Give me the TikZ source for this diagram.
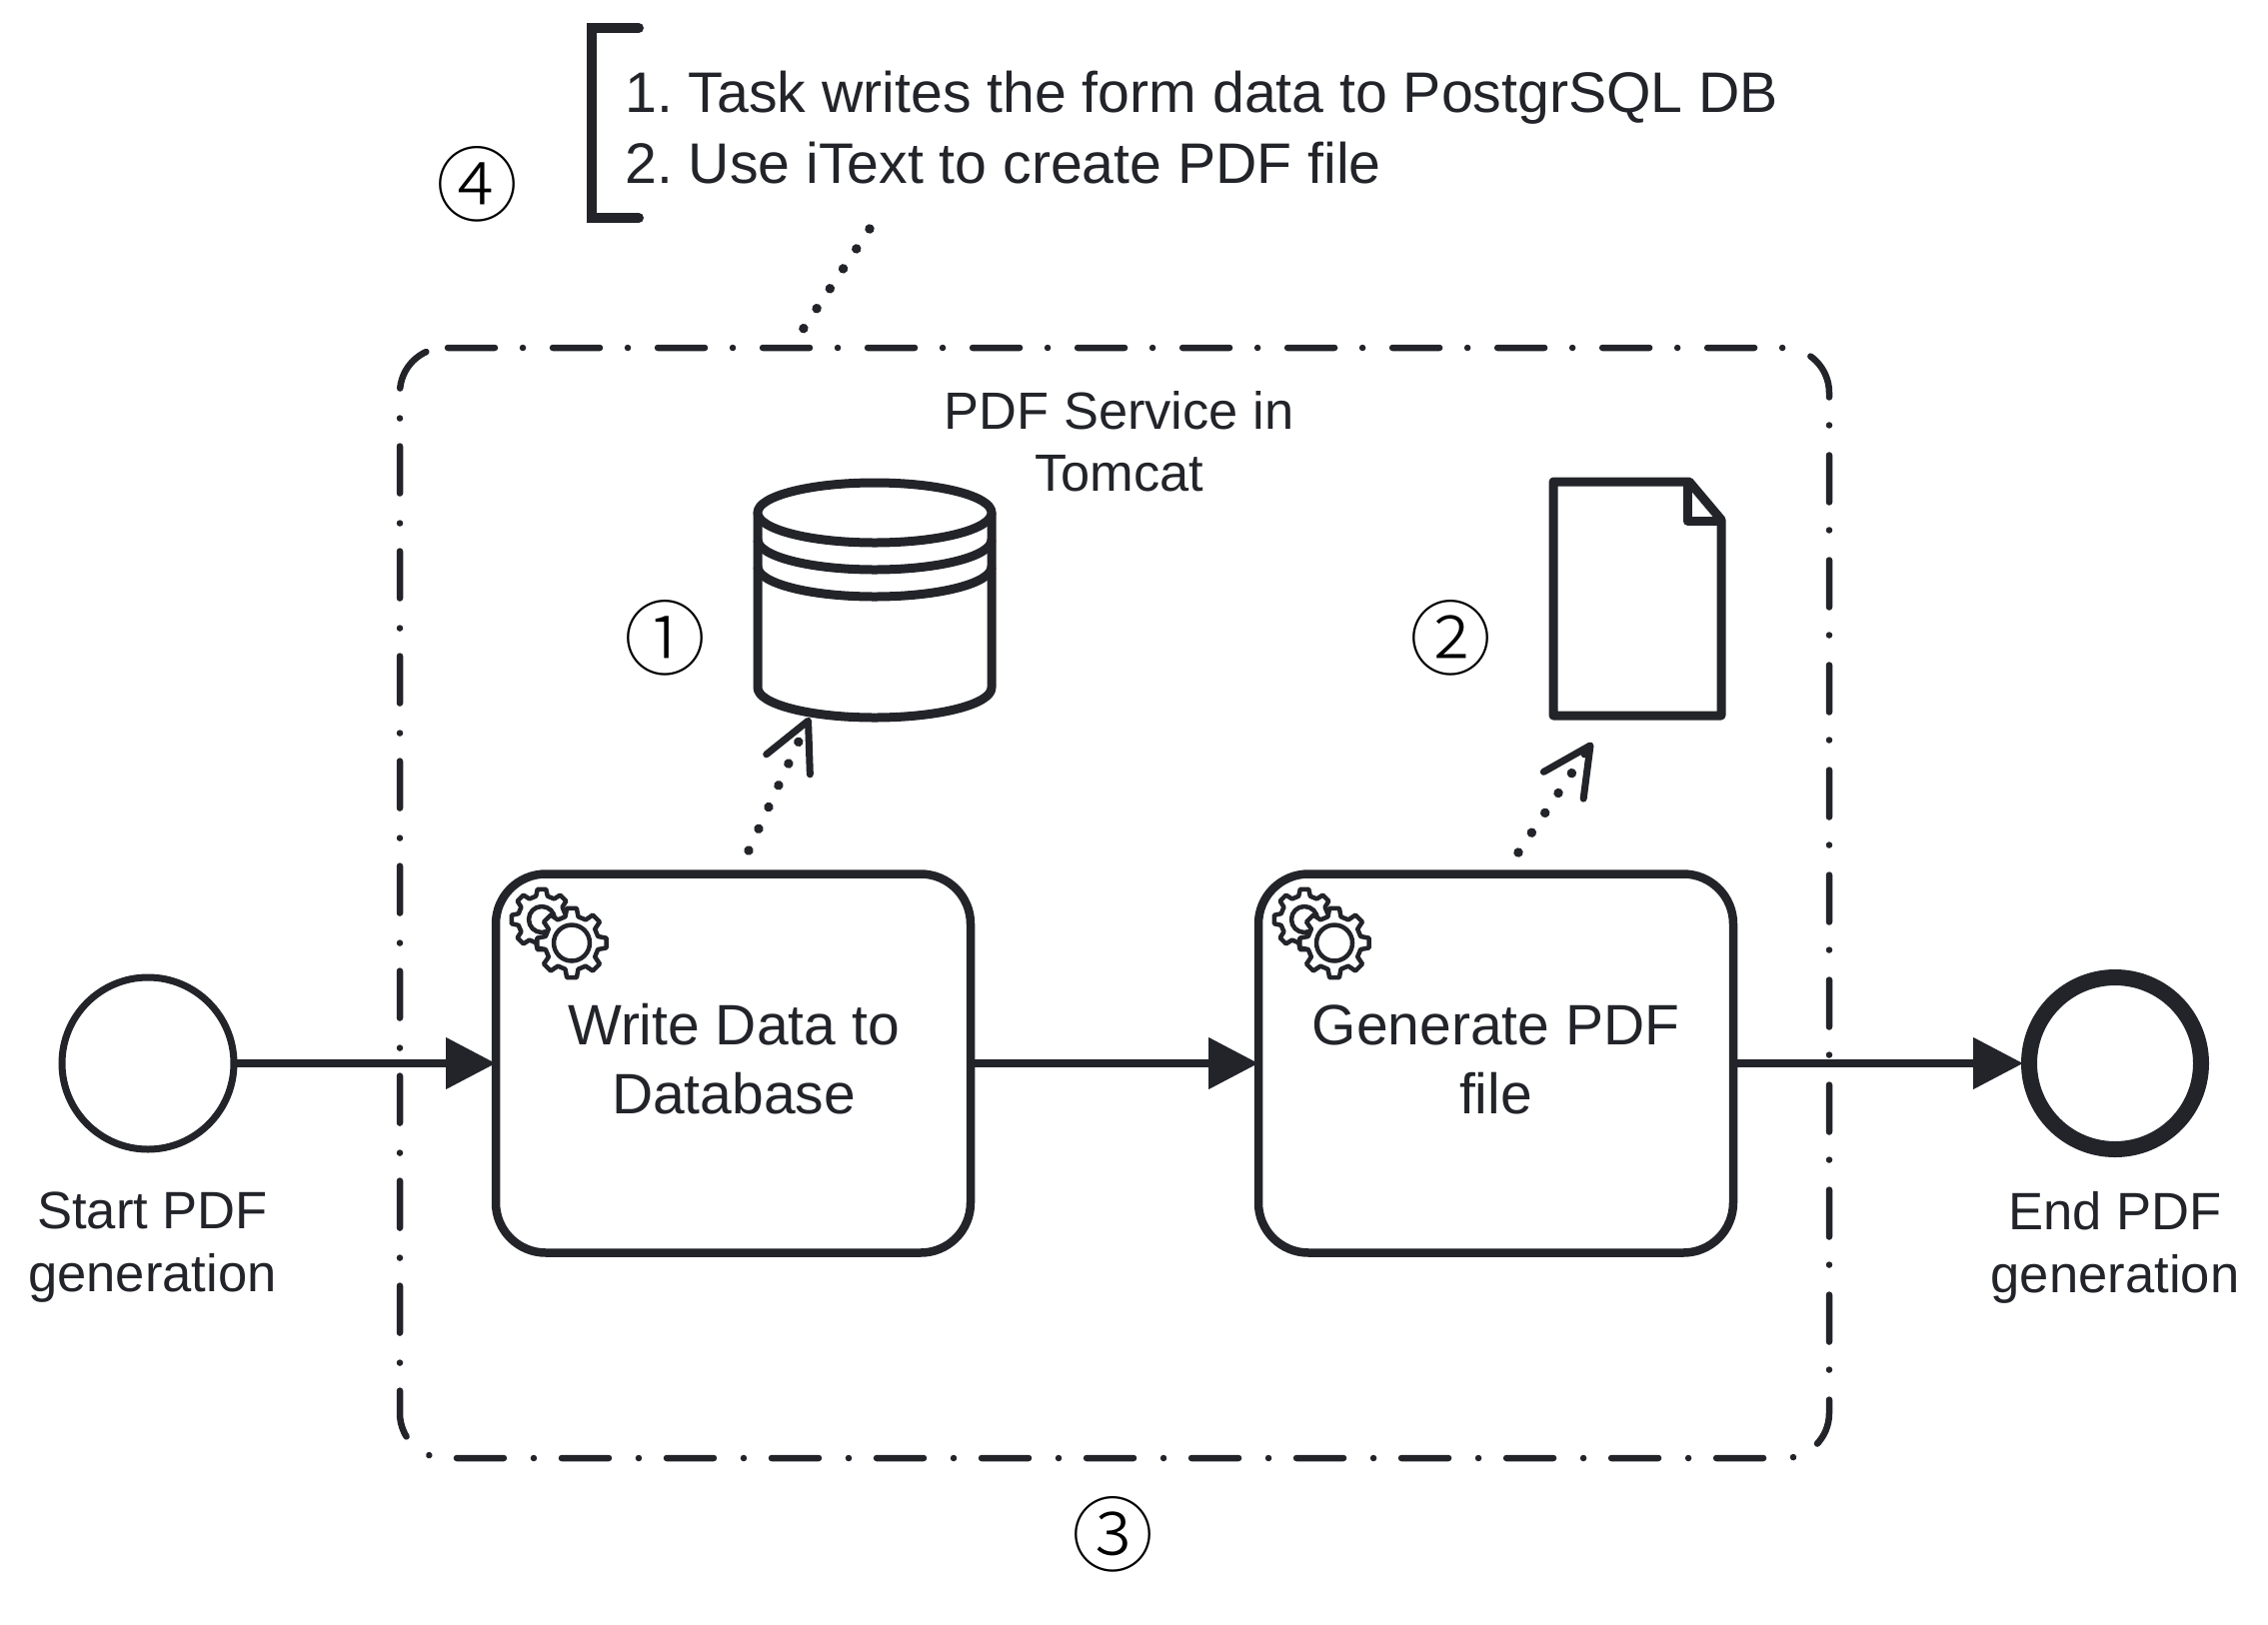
\documentclass[tikz,border=0pt]{standalone}
\usepackage{fontspec}
\setmainfont{Liberation Sans}
\newfontfamily\circfont{Noto Sans CJK SC Light}
\usetikzlibrary{arrows.meta}
\definecolor{ink}{HTML}{22242A}
\newcommand{\fs}[2]{\fontsize{#1}{#2}\selectfont}
\newcommand{\gearshape}[6]{% cx cy outer root hole linewidth
  \draw[ink,fill=white,line width=#6pt,line join=round,shift={(#1,#2)}]
    (-14:#4) \foreach \a in {0,45,...,315} { -- (\a-14:#4) -- (\a-8:#3) -- (\a+8:#3) -- (\a+14:#4) } -- cycle
    (#5,0) arc[start angle=0,end angle=360,radius=#5];
}
\tikzset{
  x=1pt,y=-1pt,
  taskbox/.style={draw=ink,line width=8.5pt,rounded corners=50pt,minimum width=475pt,minimum height=379pt,
    outer sep=0pt,inner sep=0pt,fill=white},
  tasktext/.style={align=center,text=ink,font=\fs{57}{69},inner sep=0pt},
  startev/.style={circle,draw=ink,line width=7pt,minimum size=172pt,outer sep=0pt,inner sep=0pt},
  endev/.style={circle,draw=ink,line width=16pt,minimum size=172pt,outer sep=6pt,inner sep=0pt},
  flow/.style={draw=ink,line width=8pt,-{Triangle[length=50pt,width=50pt,fill=ink]}},
  assoc/.style={draw=ink,line width=9.5pt,line cap=round,dash pattern=on 0.01pt off 23.9pt},
  assocarrow/.style={assoc,-{Straight Barb[length=48pt,width=48pt,line width=7pt,round]}},
  iconline/.style={draw=ink,line width=9pt,line join=round,fill=white},
  lbl/.style={align=center,text=ink,font=\fs{52.6}{63},inner sep=0pt},
  num/.style={text=black,font=\circfont\fs{82}{82},inner sep=0pt},
  groupline/.style={draw=ink,line width=6.5pt,line cap=round,rounded corners=45pt,
    dash pattern=on 47pt off 28pt on 0.01pt off 30pt,dash phase=102pt},
}
\begin{document}
\begin{tikzpicture}
\useasboundingbox[fill=white] (0,0) rectangle (2269,1625);

% group
\draw[groupline] (445,348) -- (1830,348) -- (1830,1459) -- (400,1459) -- (400,348) -- (445,348);
\node[lbl,font=\fs{52.4}{62}] (grouplabel) at (1119.5,441.5) {PDF Service in\\Tomcat};

% annotation
\draw[ink,line width=10pt,line cap=round,line join=miter] (639,28) -- (592,28) -- (592,218) -- (639,218);
\node[align=left,anchor=west,text=ink,font=\fs{57.2}{71},inner sep=0pt] (note) at (625,128)
  {1.\ Task writes the form data to PostgrSQL DB\\2.\ Use iText to create PDF file};
\coordinate (noteend) at (870,229);
\coordinate (groupedge) at (791,348);
\draw[assoc] (noteend) -- (groupedge);

% events and tasks
\node[startev] (start) at (148,1064) {};
\node[endev] (end) at (2116,1064) {};
\node[taskbox] (write) at (733.5,1064) {};
\node[taskbox] (generate) at (1496.5,1064) {};
\node[tasktext] (writetext) at (734,1060) {Write Data to\\Database};
\node[tasktext] (generatetext) at (1496.5,1060) {Generate PDF\\file};
\draw[flow] (start.east) -- (write.west);
\draw[flow] (write.east) -- (generate.west);
\draw[flow] (generate.east) -- (end.west);
\node[lbl] (startlabel) at (152.5,1248) {Start PDF\\generation};
\node[lbl] (endlabel) at (2116,1248) {End PDF\\generation};

% gears
\gearshape{542}{920}{30.5}{24}{13}{4.5}
\gearshape{572}{943.5}{35}{27}{18}{4.5}
\begin{scope}[shift={(763,0)}]
\gearshape{542}{920}{30.5}{24}{13}{4.5}
\gearshape{572}{943.5}{35}{27}{18}{4.5}
\end{scope}

% database
\draw[iconline] (758,513) -- (758,688) .. controls (758,704.6) and (810.4,718) .. (875,718)
  .. controls (939.6,718) and (992,704.6) .. (992,688) -- (992,513) -- cycle;
\draw[iconline] (875,513) ellipse [x radius=117,y radius=30];
\draw[iconline,fill=none] (758,540) .. controls (758,556.6) and (810.4,570) .. (875,570) .. controls (939.6,570) and (992,556.6) .. (992,540);
\draw[iconline,fill=none] (758,567) .. controls (758,583.6) and (810.4,597) .. (875,597) .. controls (939.6,597) and (992,583.6) .. (992,567);

% document
\draw[iconline] (1554,482) -- (1690,482) -- (1722,520) -- (1722,716) -- (1554,716) -- cycle;
\draw[iconline,fill=none] (1688,482) -- (1688,521) -- (1722,521);

% data associations
\coordinate (writetop) at (749,851);
\coordinate (dbbase) at (810,718);
\coordinate (gentop) at (1519,853);
\coordinate (docnear) at (1593,743);
\draw[assocarrow] (writetop) -- (dbbase);
\draw[assocarrow] (gentop) -- (docnear);

% numbers
\node[num] (n1) at (665.5,638) {①};
\node[num] (n2) at (1451,638) {②};
\node[num] (n3) at (1113.5,1535.5) {③};
\node[num] (n4) at (477,184) {④};
\end{tikzpicture}
\end{document}
